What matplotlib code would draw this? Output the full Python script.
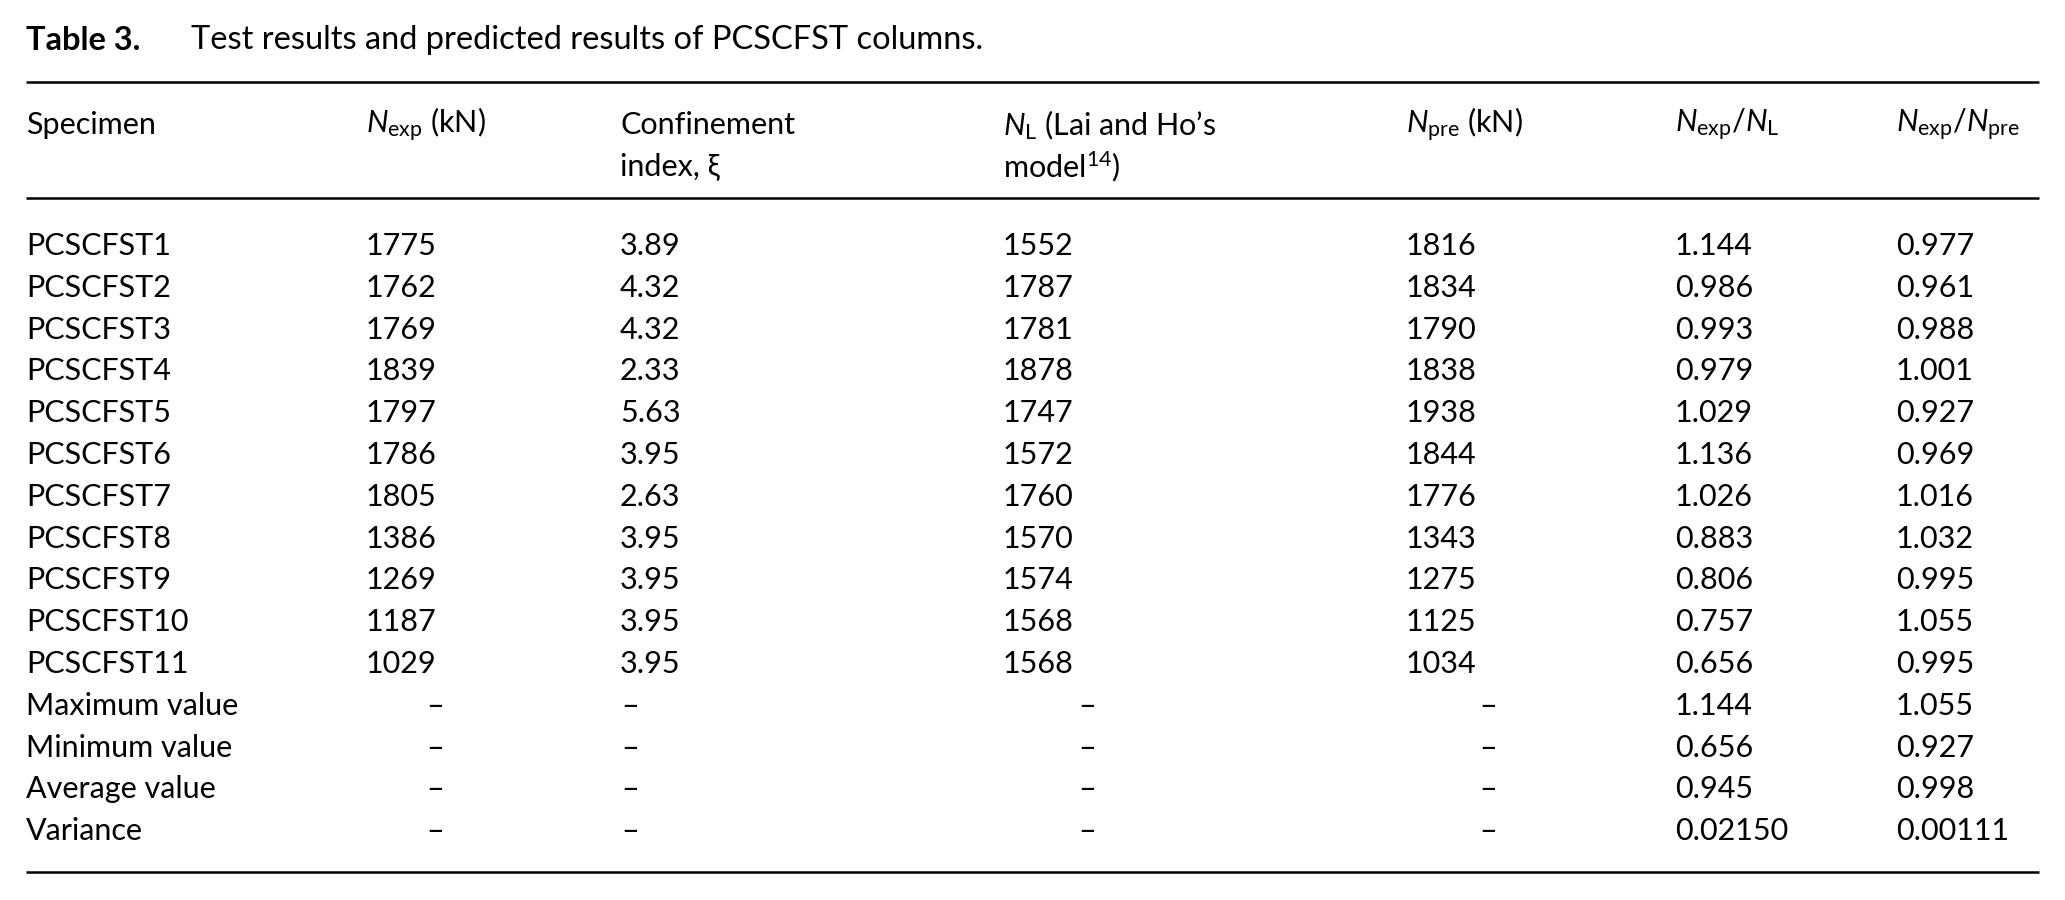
import matplotlib.pyplot as plt

plt.rcParams['font.family'] = ['Lato', 'DejaVu Sans']
plt.rcParams['mathtext.fontset'] = 'custom'
plt.rcParams['mathtext.rm'] = 'Lato'
plt.rcParams['mathtext.it'] = 'Lato:italic'
plt.rcParams['mathtext.bf'] = 'Lato:bold'

# table contents
specimens = ['PCSCFST1', 'PCSCFST2', 'PCSCFST3', 'PCSCFST4', 'PCSCFST5', 'PCSCFST6',
             'PCSCFST7', 'PCSCFST8', 'PCSCFST9', 'PCSCFST10', 'PCSCFST11']
n_exp = ['1775', '1762', '1769', '1839', '1797', '1786', '1805', '1386', '1269', '1187', '1029']
xi = ['3.89', '4.32', '4.32', '2.33', '5.63', '3.95', '2.63', '3.95', '3.95', '3.95', '3.95']
n_l = ['1552', '1787', '1781', '1878', '1747', '1572', '1760', '1570', '1574', '1568', '1568']
n_pre = ['1816', '1834', '1790', '1838', '1938', '1844', '1776', '1343', '1275', '1125', '1034']
ratio_l = ['1.144', '0.986', '0.993', '0.979', '1.029', '1.136', '1.026', '0.883', '0.806', '0.757', '0.656']
ratio_pre = ['0.977', '0.961', '0.988', '1.001', '0.927', '0.969', '1.016', '1.032', '0.995', '1.055', '0.995']

stat_names = ['Maximum value', 'Minimum value', 'Average value', 'Variance']
stat_l = ['1.144', '0.656', '0.945', '0.02150']
stat_pre = ['1.055', '0.927', '0.998', '0.00111']

headers = [
    ('Specimen', ''),
    (r'$\mathit{N}_{\mathrm{exp}}$ (kN)', ''),
    ('Confinement', 'index, ξ'),
    (r'$\mathit{N}_{\mathrm{L}}$ (Lai and Ho’s', r'model$^{\mathrm{14}}$)'),
    (r'$\mathit{N}_{\mathrm{pre}}$ (kN)', ''),
    (r'$\mathit{N}_{\mathrm{exp}}/\mathit{N}_{\mathrm{L}}$', ''),
    (r'$\mathit{N}_{\mathrm{exp}}/\mathit{N}_{\mathrm{pre}}$', ''),
]

W, H = 2065, 900
fig = plt.figure(figsize=(W / 100, H / 100), dpi=100)
ax = fig.add_axes([0, 0, 1, 1])
ax.set_xlim(0, W)
ax.set_ylim(H, 0)
ax.axis('off')

fs = 22
col_x = [26, 366, 620, 1003, 1406, 1675, 1896]
dash_x = [435, 630, 1087, 1488]

# title
ax.text(26, 40, 'Table 3.', fontsize=23.5, fontweight='bold', va='center')
ax.text(191, 40, 'Test results and predicted results of PCSCFST columns.', fontsize=23.5, va='center')

# rules
for y in [82, 198, 872]:
    ax.plot([26, 2039], [y, y], color='black', lw=1.8, solid_capstyle='butt')

# header
for x, (l1, l2) in zip(col_x, headers):
    ax.text(x, 125, l1, fontsize=fs, va='center')
    if l2:
        ax.text(x, 167, l2, fontsize=fs, va='center')

# data rows
y0, dy = 246, 41.8
for i in range(len(specimens)):
    y = y0 + i * dy
    vals = [specimens[i], n_exp[i], xi[i], n_l[i], n_pre[i], ratio_l[i], ratio_pre[i]]
    for x, v in zip(col_x, vals):
        ax.text(x, y, v, fontsize=fs, va='center')

for j in range(len(stat_names)):
    y = y0 + (len(specimens) + j) * dy
    ax.text(col_x[0], y, stat_names[j], fontsize=fs, va='center')
    for x in dash_x:
        ax.text(x, y, '–', fontsize=fs, va='center', ha='center')
    ax.text(col_x[5], y, stat_l[j], fontsize=fs, va='center')
    ax.text(col_x[6], y, stat_pre[j], fontsize=fs, va='center')

fig.savefig('out.png', dpi=100)
